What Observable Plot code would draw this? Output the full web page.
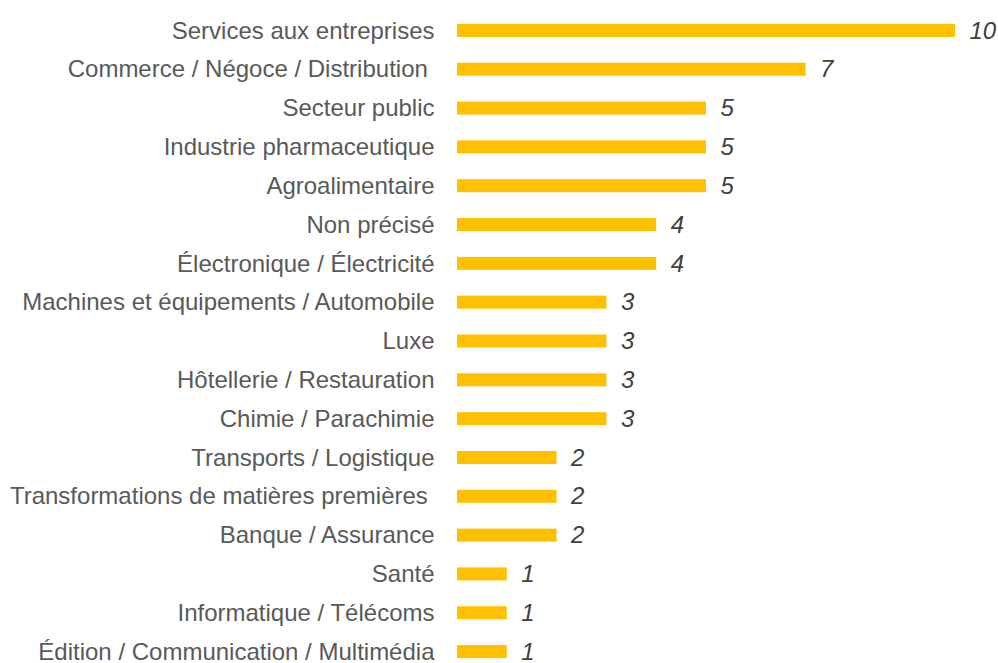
<!DOCTYPE html>
<html><head><meta charset="utf-8">
<script src="https://cdn.jsdelivr.net/npm/d3@7"></script>
<script src="https://cdn.jsdelivr.net/npm/@observablehq/plot@0.6"></script>
<style>body{margin:0;background:#fff;}</style>
</head><body><div id="chart"></div>
<script>
const categories = [
  "Services aux entreprises",
  "Commerce / Négoce / Distribution\u00a0",
  "Secteur public",
  "Industrie pharmaceutique",
  "Agroalimentaire",
  "Non précisé",
  "Électronique / Électricité",
  "Machines et équipements / Automobile",
  "Luxe",
  "Hôtellerie / Restauration",
  "Chimie / Parachimie",
  "Transports / Logistique",
  "Transformations de matières premières\u00a0",
  "Banque / Assurance",
  "Santé",
  "Informatique / Télécoms",
  "Édition / Communication / Multimédia"
];
const values = [10, 7, 5, 5, 5, 4, 4, 3, 3, 3, 3, 2, 2, 2, 1, 1, 1];
const data = categories.map((c, i) => ({category: c, value: values[i]}));

const chart = Plot.plot({
  width: 998,
  height: 663,
  marginLeft: 457,
  marginRight: 43,
  marginTop: 10,
  marginBottom: 0,
  style: {fontFamily: "'Liberation Sans', Arial, sans-serif", background: "#fff", overflow: "visible"},
  x: {domain: [0, 10], axis: null},
  y: {domain: categories, range: [11, 671], paddingInner: 0.665, paddingOuter: 0.3325, round: false, label: null},
  marks: [
    Plot.barX(data, {x: "value", y: "category", fill: "#FFC000"}),
    Plot.ruleX([0], {stroke: "#d9d9d9", strokeWidth: 2, dx: -1, y1: null}),
    Plot.axisY({tickSize: 0, tickPadding: 23, fontSize: 24, color: "#595959", label: null}),
    Plot.text(data, {x: "value", y: "category", text: d => String(d.value), dx: 14, textAnchor: "start",
      fontSize: 24, fontStyle: "italic", fill: "#404040"})
  ]
});
document.getElementById("chart").appendChild(chart);
</script>
</body></html>
